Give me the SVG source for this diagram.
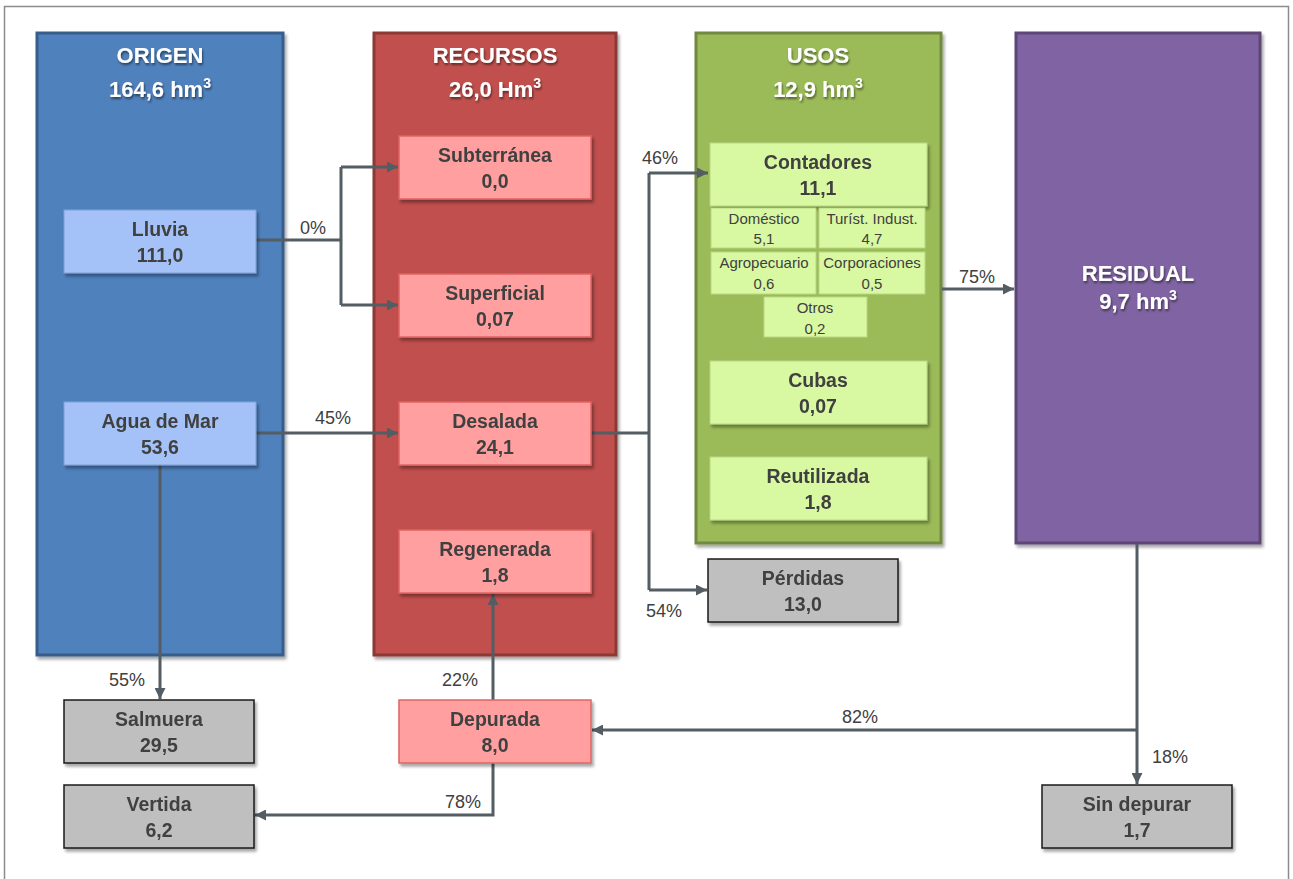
<svg xmlns="http://www.w3.org/2000/svg" width="1293" height="879" viewBox="0 0 1293 879">
<defs>
<filter id="sh" x="-10%" y="-10%" width="130%" height="130%">
<feGaussianBlur in="SourceAlpha" stdDeviation="1.5"/>
<feOffset dx="1.5" dy="2.5" result="o"/>
<feComponentTransfer><feFuncA type="linear" slope="0.35"/></feComponentTransfer>
<feMerge><feMergeNode/><feMergeNode in="SourceGraphic"/></feMerge>
</filter>
<filter id="ts" x="-10%" y="-10%" width="130%" height="140%">
<feGaussianBlur in="SourceAlpha" stdDeviation="1"/>
<feOffset dx="1" dy="1.5"/>
<feComponentTransfer><feFuncA type="linear" slope="0.5"/></feComponentTransfer>
<feMerge><feMergeNode/><feMergeNode in="SourceGraphic"/></feMerge>
</filter>
<marker id="ar" viewBox="0 0 10 10" refX="10" refY="5" markerWidth="11" markerHeight="11" markerUnits="userSpaceOnUse" orient="auto">
<path d="M0,0 L10,5 L0,10 z" fill="#535d63"/>
</marker>
</defs>
<style>
.t{font-family:"Liberation Sans",Arial,sans-serif;font-weight:bold;fill:#404040;text-anchor:middle;font-size:19.5px}
.h{font-family:"Liberation Sans",Arial,sans-serif;font-weight:bold;fill:#ffffff;text-anchor:middle;font-size:22px}
.s{font-family:"Liberation Sans",Arial,sans-serif;fill:#404040;text-anchor:middle;font-size:15px}
.p{font-family:"Liberation Sans",Arial,sans-serif;fill:#404040;text-anchor:middle;font-size:18px}
.blue{fill:#a4c2f7;stroke:#7f9fd6;stroke-width:1}
.pink{fill:#ff9f9f;stroke:#e06464;stroke-width:1.5}
.green{fill:#d8f8a2;stroke:#b9d884;stroke-width:1}
.gray{fill:#bfbfbf;stroke:#1a1a1a;stroke-width:1.5}
.c{fill:none;stroke:#535d63;stroke-width:3}
</style>
<rect x="4.5" y="6.5" width="1284" height="900" fill="#ffffff" stroke="#8c8c8c" stroke-width="1.5"/>

<g id="origen" filter="url(#sh)">
<rect x="37" y="33" width="246" height="622" fill="#4f81bd" stroke="#385d8a" stroke-width="3"/>
<text class="h" x="160" y="63" filter="url(#ts)">ORIGEN</text>
<text class="h" x="160" y="97" filter="url(#ts)">164,6 hm<tspan font-size="14" dy="-9">3</tspan></text>
</g>
<g id="recursos" filter="url(#sh)">
<rect x="374" y="33" width="242" height="622" fill="#c0504d" stroke="#8c3836" stroke-width="3"/>
<text class="h" x="495" y="63" filter="url(#ts)">RECURSOS</text>
<text class="h" x="495" y="97" filter="url(#ts)">26,0 Hm<tspan font-size="14" dy="-9">3</tspan></text>
</g>
<g id="usos" filter="url(#sh)">
<rect x="696" y="33" width="245" height="510" fill="#9bbb59" stroke="#71893f" stroke-width="3"/>
<text class="h" x="818" y="63" filter="url(#ts)">USOS</text>
<text class="h" x="818" y="97" filter="url(#ts)">12,9 hm<tspan font-size="14" dy="-9">3</tspan></text>
</g>
<g id="residual" filter="url(#sh)">
<rect x="1016" y="33" width="244" height="510" fill="#8064a2" stroke="#5c4776" stroke-width="3"/>
<text class="h" x="1138" y="281" filter="url(#ts)">RESIDUAL</text>
<text class="h" x="1138" y="309" filter="url(#ts)">9,7 hm<tspan font-size="14" dy="-9">3</tspan></text>
</g>

<g id="connectors">
<polyline class="c" points="256,240 341,240"/>
<polyline class="c" points="341,167 341,305"/>
<polyline class="c" points="341,167 398,167" marker-end="url(#ar)"/>
<polyline class="c" points="341,305 398,305" marker-end="url(#ar)"/>
<polyline class="c" points="256,433 398,433" marker-end="url(#ar)"/>
<polyline class="c" points="591,433 649,433"/>
<polyline class="c" points="649,173 649,590"/>
<polyline class="c" points="649,173 708,173" marker-end="url(#ar)"/>
<polyline class="c" points="649,590 707,590" marker-end="url(#ar)"/>
<polyline class="c" points="942,289 1014,289" marker-end="url(#ar)"/>
<polyline class="c" points="160,465 160,699" marker-end="url(#ar)"/>
<polyline class="c" points="493,700 493,594" marker-end="url(#ar)"/>
<polyline class="c" points="493,763 493,815 255,815" marker-end="url(#ar)"/>
<polyline class="c" points="1137,544 1137,784" marker-end="url(#ar)"/>
<polyline class="c" points="1137,730 592,730" marker-end="url(#ar)"/>
<text class="p" x="313" y="234">0%</text>
<text class="p" x="333" y="424">45%</text>
<text class="p" x="660" y="164">46%</text>
<text class="p" x="664" y="617">54%</text>
<text class="p" x="977" y="283">75%</text>
<text class="p" x="127" y="686">55%</text>
<text class="p" x="460" y="686">22%</text>
<text class="p" x="463" y="808">78%</text>
<text class="p" x="860" y="723">82%</text>
<text class="p" x="1170" y="763">18%</text>
</g>

<g id="lluvia" filter="url(#sh)"><rect class="blue" x="64" y="210" width="192" height="63"/>
<text class="t" x="160" y="236">Lluvia</text><text class="t" x="160" y="262">111,0</text></g>
<g id="aguademar" filter="url(#sh)"><rect class="blue" x="64" y="402" width="192" height="63"/>
<text class="t" x="160" y="428">Agua de Mar</text><text class="t" x="160" y="454">53,6</text></g>

<g id="subterranea" filter="url(#sh)"><rect class="pink" x="399" y="136" width="192" height="63"/>
<text class="t" x="495" y="162">Subterránea</text><text class="t" x="495" y="188">0,0</text></g>
<g id="superficial" filter="url(#sh)"><rect class="pink" x="399" y="274" width="192" height="63"/>
<text class="t" x="495" y="300">Superficial</text><text class="t" x="495" y="326">0,07</text></g>
<g id="desalada" filter="url(#sh)"><rect class="pink" x="399" y="402" width="192" height="63"/>
<text class="t" x="495" y="428">Desalada</text><text class="t" x="495" y="454">24,1</text></g>
<g id="regenerada" filter="url(#sh)"><rect class="pink" x="399" y="530" width="192" height="63"/>
<text class="t" x="495" y="556">Regenerada</text><text class="t" x="495" y="582">1,8</text></g>

<g id="contadores" filter="url(#sh)"><rect class="green" x="710" y="143" width="217" height="63"/>
<text class="t" x="818" y="169" font-size="20.5">Contadores</text><text class="t" x="818" y="195" font-size="20.5">11,1</text></g>
<g id="domestico"><rect class="green" x="711" y="208" width="105" height="40"/>
<text class="s" x="764" y="224">Doméstico</text><text class="s" x="764" y="244">5,1</text></g>
<g id="turist"><rect class="green" x="819" y="208" width="106" height="40"/>
<text class="s" x="872" y="224">Turíst. Indust.</text><text class="s" x="872" y="244">4,7</text></g>
<g id="agropecuario"><rect class="green" x="711" y="252" width="105" height="42"/>
<text class="s" x="764" y="268">Agropecuario</text><text class="s" x="764" y="289">0,6</text></g>
<g id="corporaciones"><rect class="green" x="819" y="252" width="106" height="42"/>
<text class="s" x="872" y="268">Corporaciones</text><text class="s" x="872" y="289">0,5</text></g>
<g id="otros"><rect class="green" x="764" y="297" width="103" height="40"/>
<text class="s" x="815" y="313">Otros</text><text class="s" x="815" y="334">0,2</text></g>
<g id="cubas" filter="url(#sh)"><rect class="green" x="710" y="361" width="217" height="63"/>
<text class="t" x="818" y="387">Cubas</text><text class="t" x="818" y="413">0,07</text></g>
<g id="reutilizada" filter="url(#sh)"><rect class="green" x="710" y="457" width="217" height="63"/>
<text class="t" x="818" y="483">Reutilizada</text><text class="t" x="818" y="509">1,8</text></g>

<g id="perdidas" filter="url(#sh)"><rect class="gray" x="708" y="559" width="190" height="63"/>
<text class="t" x="803" y="585">Pérdidas</text><text class="t" x="803" y="611">13,0</text></g>
<g id="salmuera" filter="url(#sh)"><rect class="gray" x="64" y="700" width="190" height="63"/>
<text class="t" x="159" y="726">Salmuera</text><text class="t" x="159" y="752">29,5</text></g>
<g id="vertida" filter="url(#sh)"><rect class="gray" x="64" y="785" width="190" height="63"/>
<text class="t" x="159" y="811">Vertida</text><text class="t" x="159" y="837">6,2</text></g>
<g id="depurada" filter="url(#sh)"><rect class="pink" x="399" y="700" width="192" height="63"/>
<text class="t" x="495" y="726">Depurada</text><text class="t" x="495" y="752">8,0</text></g>
<g id="sindepurar" filter="url(#sh)"><rect class="gray" x="1042" y="785" width="190" height="63"/>
<text class="t" x="1137" y="811">Sin depurar</text><text class="t" x="1137" y="837">1,7</text></g>
</svg>
